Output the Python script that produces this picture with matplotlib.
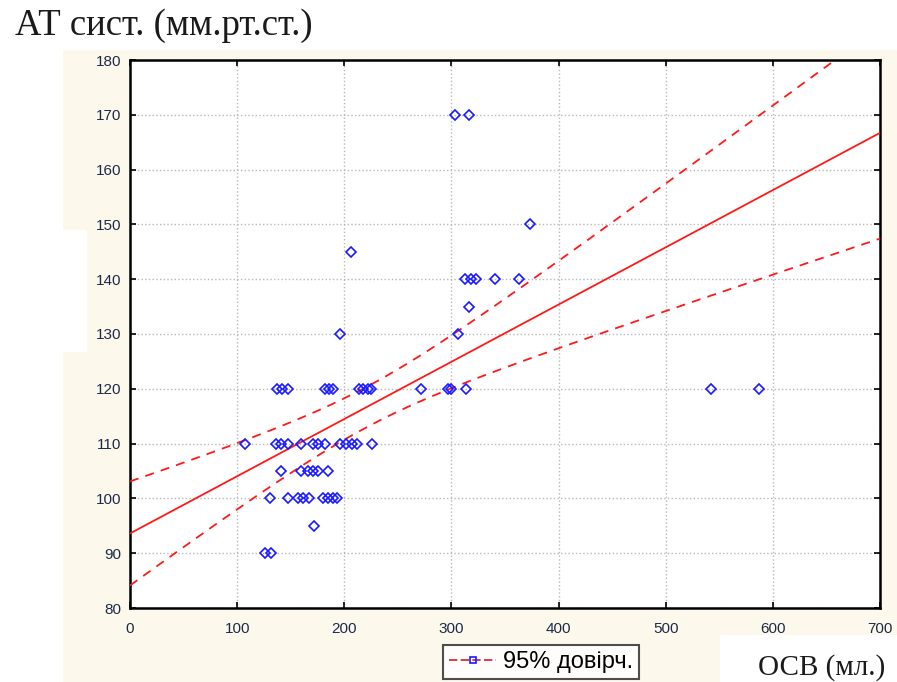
import numpy as np
import matplotlib
matplotlib.use('Agg')
import matplotlib.pyplot as plt
from matplotlib.patches import Rectangle
from matplotlib.lines import Line2D

# OCB (ml) vs systolic BP, grouped by BP row
osv_170 = [303, 316]
osv_150 = [373]
osv_145 = [206]
osv_140 = [313, 318, 323, 341, 363]
osv_135 = [316]
osv_130 = [196, 306]
osv_120 = [137, 142, 147, 182, 186, 189, 214, 217, 222, 225, 272, 297, 300, 314, 542, 587]
osv_110 = [107, 136, 141, 147, 160, 171, 175, 182, 196, 202, 207, 212, 226]
osv_105 = [141, 160, 166, 171, 175, 185]
osv_100 = [131, 147, 157, 161, 167, 180, 185, 189, 193]
osv_95 = [172]
osv_90 = [126, 132]

groups = [(170, osv_170), (150, osv_150), (145, osv_145), (140, osv_140),
          (135, osv_135), (130, osv_130), (120, osv_120), (110, osv_110),
          (105, osv_105), (100, osv_100), (95, osv_95), (90, osv_90)]

x = np.array([v for bp, xs in groups for v in xs], dtype=float)
y = np.array([bp for bp, xs in groups for v in xs], dtype=float)

x_ticks = [0, 100, 200, 300, 400, 500, 600, 700]
y_ticks = [80, 90, 100, 110, 120, 130, 140, 150, 160, 170, 180]
t_crit = 2.002  # t(0.975, n-2)

# linear regression and 95% confidence band
slope, intercept = np.polyfit(x, y, 1)
n = len(x)
resid = y - (intercept + slope * x)
s = np.sqrt(np.sum(resid ** 2) / (n - 2))
sxx = np.sum((x - x.mean()) ** 2)
xs = np.linspace(0, 700, 200)
fit = intercept + slope * xs
half = t_crit * s * np.sqrt(1.0 / n + (xs - x.mean()) ** 2 / sxx)

W, H = 897, 682
fig = plt.figure(figsize=(W / 100, H / 100), dpi=100)
cream = '#fdf8ec'
fig.patches.append(Rectangle((63 / W, 0), 1 - 63 / W, 1 - 50 / H, transform=fig.transFigure,
                             facecolor=cream, edgecolor='none', zorder=-10))
fig.patches.append(Rectangle((0, 1 - 352 / H), 87 / W, 122 / H, transform=fig.transFigure,
                             facecolor='white', edgecolor='none', zorder=-9))
fig.patches.append(Rectangle((720 / W, 0), 1 - 720 / W, 1 - 635 / H, transform=fig.transFigure,
                             facecolor='white', edgecolor='none', zorder=-9))

ax = fig.add_axes([130 / W, 74 / H, 750 / W, 548 / H])
ax.set_facecolor('white')

ax.plot(xs, fit, color='#ff1a1a', lw=1.3, zorder=3)
ax.plot(xs, fit + half, color='#ff1a1a', lw=1.3, ls=(0, (5, 4)), zorder=3)
ax.plot(xs, fit - half, color='#ff1a1a', lw=1.3, ls=(0, (5, 4)), zorder=3)
ax.plot(x, y, ls='none', marker='D', ms=5, mfc='none', mec='#1a1aff', mew=1.2, zorder=4)

ax.set_xlim(0, 700)
ax.set_ylim(80, 180)
ax.set_xticks(x_ticks)
ax.set_yticks(y_ticks)
ax.grid(True, color='#b8b8b8', ls=':', lw=1.0)
ax.set_axisbelow(True)
ax.tick_params(direction='in', length=4, width=1.2, top=True, right=True,
               labelsize=11, labelcolor='#1c2a4a')
ax.tick_params(axis='y', pad=6)
ax.tick_params(axis='x', pad=10)
for lab in ax.get_xticklabels() + ax.get_yticklabels():
    lab.set_fontfamily('Liberation Sans')
for sp in ax.spines.values():
    sp.set_linewidth(1.8)
    sp.set_color('black')

fig.text(15 / W, 1 - 35 / H, 'АТ сист. (мм.рт.ст.)', family='Liberation Serif',
         fontsize=26.5, color='#1a1a1a', va='baseline', ha='left')
fig.text(885 / W, 1 - 675 / H, 'ОСВ (мл.)', family='Liberation Serif',
         fontsize=21, color='#1a1a1a', va='baseline', ha='right')

handle = Line2D([], [], color='#cc2030', lw=1.2, ls=(0, (5, 2)), marker='s', ms=4,
                mfc='none', mec='#1a1aff', mew=1.2)
leg = fig.legend([handle], ['95% довірч.'], loc='upper left',
                 bbox_to_anchor=(443 / W, 1 - 645 / H), frameon=True, fancybox=False,
                 prop={'family': 'Liberation Sans', 'size': 17}, handlelength=2.0,
                 numpoints=1, borderpad=0.25, handletextpad=0.3, borderaxespad=0)
leg.get_frame().set_edgecolor('#222222')
leg.get_frame().set_linewidth(1.5)
leg.get_frame().set_facecolor('white')

fig.savefig('out.png', dpi=100)
